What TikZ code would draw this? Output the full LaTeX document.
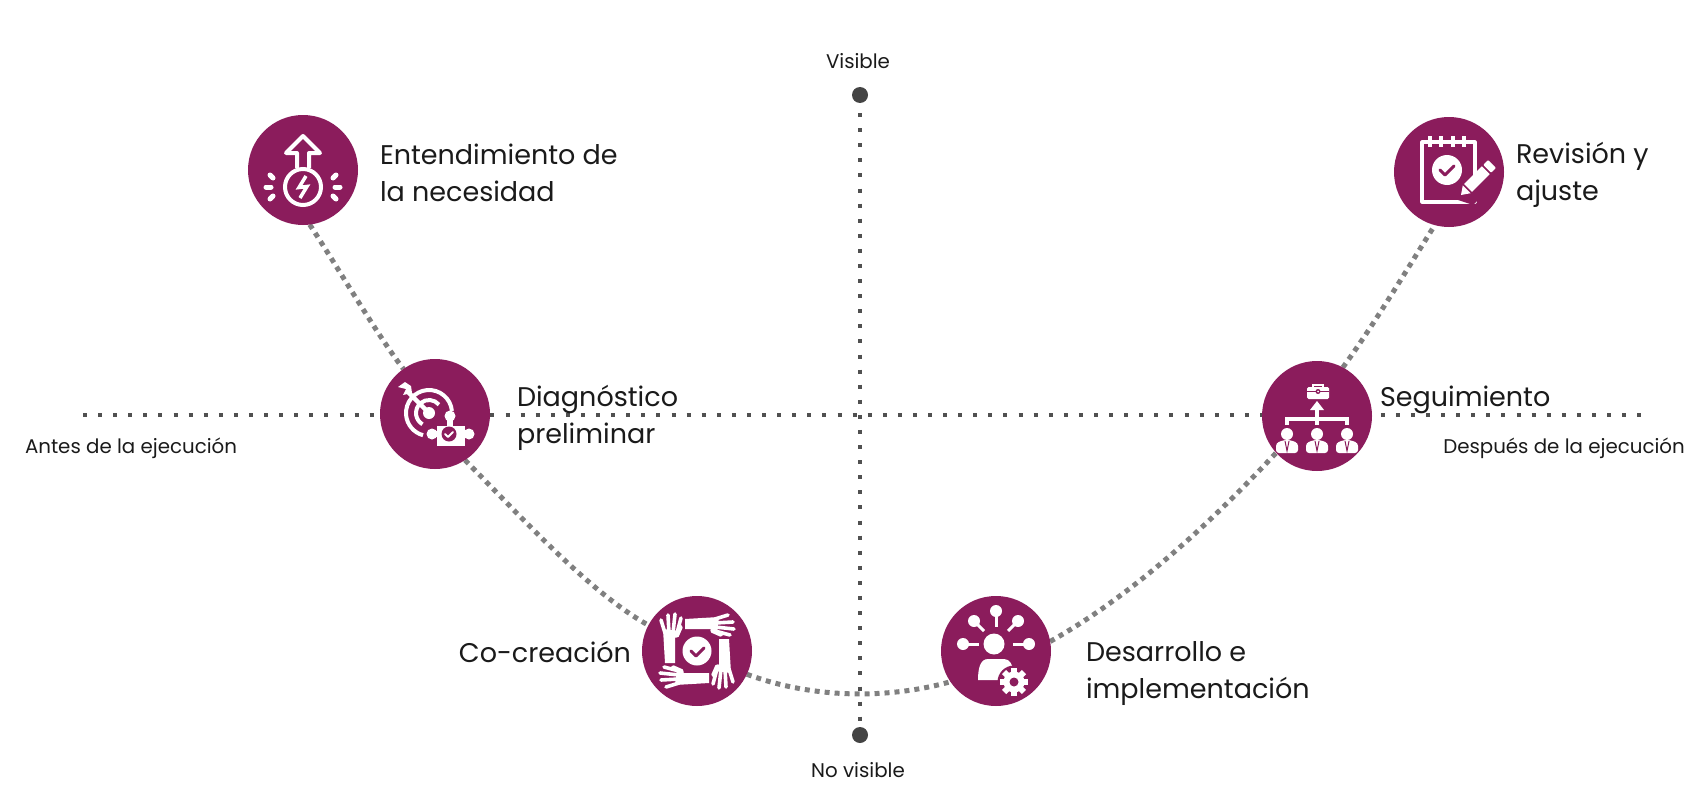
\documentclass[tikz,border=0pt]{standalone}
\usepackage{fontspec}
\setmainfont{Poppins}
\usetikzlibrary{arrows.meta,positioning,backgrounds,calc}
\definecolor{wine}{HTML}{8B1C5C}
\definecolor{trailc}{HTML}{808080}
\definecolor{axisc}{HTML}{505050}
\definecolor{dotc}{HTML}{444444}
\definecolor{ink}{HTML}{1A1A1A}

\begin{document}
\begin{tikzpicture}[
  x=1pt, y=-1pt,
  stage/.style={circle, fill=wine, minimum size=110pt, inner sep=0pt, outer sep=0pt},
  lbl/.style={inner sep=0pt, outer sep=0pt, align=left, text=ink,
              font=\fontsize{27}{37}\selectfont},
  slbl/.style={inner sep=0pt, outer sep=0pt, text=ink,
              font=\fontsize{19.8}{22}\selectfont},
  enddot/.style={circle, fill=dotc, minimum size=16pt, inner sep=0pt, outer sep=0pt},
  axis/.style={line width=4pt, axisc, dash pattern=on 4pt off 11.09pt},
  trail/.style={line width=5pt, trailc, dash pattern=on 5pt off 5pt},
  ico/.style={draw=white, line width=4pt},
  tick/.style={draw=wine, line width=3pt, line cap=round, line join=round},
]
\useasboundingbox (0,0) rectangle (1706,808);

% ============================================================ STAGES
\node[stage] (need) at (303,170) {};
\node[stage] (diag) at (435,414) {};
\node[stage] (cocr) at (697,651) {};
\node[stage] (impl) at (996,651) {};
\node[stage] (segu) at (1317,416) {};
\node[stage] (revi) at (1449,172) {};

\node[lbl, right=22pt of need, yshift=-3pt] (needl) {Entendimiento de\\la necesidad};
\node[lbl, right=27pt of diag, yshift=-4pt] (diagl) {Diagnóstico\\preliminar};
\node[lbl, left=11pt of cocr, yshift=-1pt] (cocrl) {Co-creación};
\node[lbl, right=35pt of impl, yshift=-23pt] (impll) {Desarrollo e\\implementación};
\node[lbl, right=8pt of segu, yshift=16pt] (segul) {Seguimiento};
\node[lbl, right=12pt of revi, yshift=-3pt] (revil) {Revisión y\\ajuste};

% ============================================================ AXES
\node[enddot] (top) at (860,95) {};
\node[enddot] (bot) at (860,735) {};
\coordinate (west) at (83,415);
\coordinate (east) at (1641,415);

\node[slbl] (vis) at (858,61) {Visible};
\node[slbl] (novis) at (858,770) {No visible};
\node[slbl] (before) at (131,448) {Antes de la ejecución};
\node[slbl] (after) at (1564,448) {Después de la ejecución};

\begin{scope}[on background layer]
  \draw[axis, dash phase=5pt] (top) -- (bot);
  \draw[axis] (west) -- (east);
  \draw[trail] (need.-83) .. controls +(27,41) and +(-25,-32) .. (diag.125);
  \draw[trail] (diag.-57) .. controls +(50,50) and +(-60,-33) .. (cocr.152);
  \draw[trail] (cocr.-25) .. controls +(65,24) and +(-65,18) .. (impl.-146);
  \draw[trail] (impl.10) .. controls +(80,-45) and +(-70,75) .. (segu.-138);
  \draw[trail] (segu.62) .. controls +(28,-38) and +(-25,40) .. (revi.-105);
\end{scope}

% ============================================================ ICON need
\begin{scope}[shift={(need.center)}]
  \draw[ico, line join=round] (-6,-2) -- (-6,-17) -- (-17,-17) -- (0,-34) -- (17,-17) -- (6,-17) -- (6,-2);
  \draw[ico] (0,17) circle (18);
  \draw[white, line width=3.5pt, line join=miter] (3,6) -- (-4,17.5) -- (4,16.5) -- (-3,28);
  \foreach \dx/\dy/\ex/\ey in {-33/5/-30/8, -37/17/-32/17, -33/29/-30/26, 33/5/30/8, 37/17/32/17, 33/29/30/26}
    \draw[white, line width=5pt, line cap=round] (\dx,\dy) -- (\ex,\ey);
\end{scope}

% ============================================================ ICON diag
\begin{scope}[shift={(diag.center)}, y=1pt]
  \draw[white, line width=4pt] (-6,1) ++(5:23) arc[start angle=5, end angle=255, radius=23pt];
  \draw[white, line width=4pt] (-6,1) ++(40:13) arc[start angle=40, end angle=240, radius=13pt];
  \fill[wine] (14,-20) circle (23);
  \fill[white] (-6,1) circle (6);
  \draw[white, line width=4.5pt] (-6,1) -- (-27,22);
  \fill[white] (-37,27) -- (-30,32) -- (-24,28) -- (-23,21) -- (-32,19) -- (-29,25) -- cycle;
  \fill[white] (2,-12) rectangle (30,-32);
  \fill[white] (15,-2) circle (5.5);
  \fill[white] (12,-3) rectangle (18,-14);
  \fill[white] (-3,-20) circle (5.5);
  \fill[white] (-3,-17) rectangle (4,-23);
  \fill[white] (34,-20) circle (5.5);
  \fill[white] (28,-17) rectangle (34,-23);
  \fill[wine] (14,-20) circle (7.5);
  \draw[white, line width=2pt, line cap=round, line join=round] (10,-20) -- (13,-23) -- (18,-18);
\end{scope}

% ============================================================ ICON cocr
\begin{scope}[shift={(cocr.center)}]
  \fill[white] (0,0) circle (14.5);
  \draw[tick] (-6,0) -- (-1,5) -- (7,-3);
  \foreach \rot in {0,90,180,270}
    {
    \begin{scope}[rotate=\rot]
      \fill[white] (-32,12) -- (-22,12) -- (-22,-13) -- (-19,-16) -- (-18,-20) -- (-34,-22) -- cycle;
      \draw[white, line width=3.6pt, line cap=round]
        (-32,-18) -- (-36,-31)
        (-28,-18) -- (-29,-36)
        (-24,-18) -- (-22,-37)
        (-20,-18) -- (-16,-33)
        (-20,-15) -- (-16,-24);
    \end{scope}
    }
\end{scope}

% ============================================================ ICON impl
\begin{scope}[shift={(impl.center)}]
  \fill[white] (-2,-7) circle (10.5);
  \foreach \ax/\ay/\bx/\by in {-33/-7/-17/-7, -22/-30/-12/-20, 0/-40/0/-24, 22/-30/12/-20, 33/-7/17/-7}
    {
    \fill[white] (\ax,\ay) circle (6);
    \draw[white, line width=3pt] (\ax,\ay) -- (\bx,\by);
    }
  \fill[white] (-18,29) .. controls (-18,18) and (-16,8) .. (-8,8) -- (8,8) .. controls (14,8) and (16,14) .. (18,20) -- (8,29) -- cycle;
  \fill[wine] (18,31) circle (16.5);
  \foreach \rot in {0,45,...,315}
    \fill[white, shift={(18,31)}, rotate=\rot] (-3,-9) rectangle (3,-14);
  \fill[white] (18,31) circle (10.5);
  \fill[wine] (18,31) circle (4.5);
\end{scope}

% ============================================================ ICON segu
\begin{scope}[shift={(segu.center)}]
  \draw[white, line width=2pt] (-4,-28) -- (-4,-31.5) -- (6,-31.5) -- (6,-28);
  \fill[white, rounded corners=1.5pt] (-10,-29) rectangle (12,-17);
  \draw[wine, line width=1pt] (-10,-24.5) -- (12,-24.5);
  \fill[wine] (1,-24.5) circle (2.5);
  \fill[white] (1,-24.5) circle (1);
  \fill[white] (0,-15) -- (7,-6) -- (-7,-6) -- cycle;
  \draw[white, line width=3.2pt] (0,-8) -- (0,9);
  \draw[white, line width=3.2pt] (-30,9) -- (-30,3) -- (30,3) -- (30,9);
  \foreach \px in {-30,0,30}
    {
    \fill[white] (\px,18) circle (6);
    \fill[white, rounded corners=3pt] (\px-11,37) -- (\px-11,27) -- (\px-3,24) -- (\px+3,24) -- (\px+11,27) -- (\px+11,37) -- cycle;
    \draw[wine, line width=1pt] (\px-2,25) -- (\px,35) -- (\px+2,25);
    }
\end{scope}

% ============================================================ ICON revi
\begin{scope}[shift={(revi.center)}]
  \draw[white, line width=3.2pt, line join=round] (-27,-30) rectangle (26,30);
  \foreach \px in {-19,-8,4,15}
    \draw[white, line width=3.2pt] (\px,-36) -- (\px,-25);
  \fill[white] (-2,-2) circle (15);
  \draw[tick] (-9,-2) -- (-4,3) -- (5,-6);
  \fill[wine] (9,28) -- (35,-6) -- (50,8) -- (24,33) -- cycle;
  \begin{scope}[shift={(12,23)}, rotate=45]
    \fill[white] (0,0) -- (8,-5.5) -- (8,5.5) -- cycle;
    \fill[white] (10,-5.5) rectangle (35,5.5);
    \fill[white, rounded corners=1pt] (37,-5.5) rectangle (44,5.5);
  \end{scope}
\end{scope}

\end{tikzpicture}
\end{document}
